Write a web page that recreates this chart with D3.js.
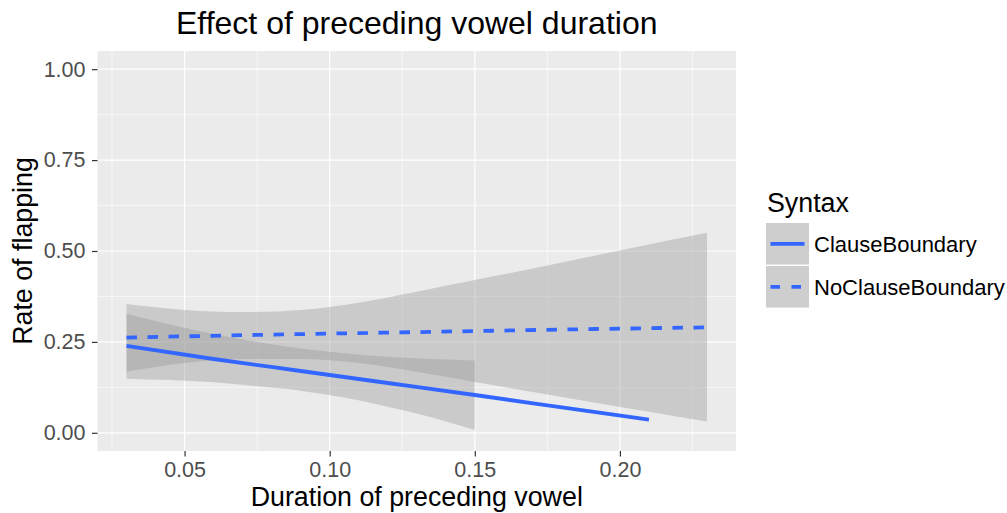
<!DOCTYPE html>
<html>
<head>
<meta charset="utf-8">
<script src="https://cdn.jsdelivr.net/npm/d3@7"></script>
<style>
  body { margin: 0; background: #fff; }
  text { font-family: "Liberation Sans", Arial, sans-serif; }
</style>
</head>
<body>
<div id="container"></div>
<script>
let width = 1007
let height = 513
let margin = { top: 51, right: 271, bottom: 62, left: 97.5 }

// tick values
const xTicks = [0.05, 0.10, 0.15, 0.20]
const xMinor = [0.025, 0.075, 0.125, 0.175, 0.225]
const yTicks = [0, 0.25, 0.5, 0.75, 1]
const yMinor = [0.125, 0.375, 0.625, 0.875]

const groups = ["ClauseBoundary", "NoClauseBoundary"]

// ClauseBoundary fit (solid)
const clauseX = [0.03, 0.06, 0.09, 0.12, 0.15, 0.18, 0.21]
const clauseFit = [0.239, 0.203, 0.170, 0.137, 0.104, 0.070, 0.036]
const clauseBandX = [0.03, 0.045, 0.06, 0.075, 0.09, 0.105, 0.12, 0.135, 0.15]
const clauseUpper = [0.327, 0.298, 0.272, 0.250, 0.232, 0.219, 0.209, 0.203, 0.199]
const clauseLower = [0.149, 0.145, 0.139, 0.128, 0.116, 0.097, 0.072, 0.043, 0.008]

// NoClauseBoundary fit (dashed)
const noClauseX = [0.03, 0.08, 0.13, 0.18, 0.23]
const noClauseFit = [0.262, 0.270, 0.277, 0.284, 0.290]
const noClauseBandX = [0.03, 0.05, 0.07, 0.09, 0.11, 0.13, 0.15, 0.17, 0.19, 0.21, 0.23]
const noClauseUpper = [0.354, 0.338, 0.332, 0.338, 0.358, 0.388, 0.420, 0.452, 0.485, 0.518, 0.550]
const noClauseLower = [0.168, 0.192, 0.203, 0.203, 0.192, 0.168, 0.140, 0.112, 0.085, 0.058, 0.031]

const lineColor = "#3366FF"
const dashes = ["none", "10.5,10.5"]

let x = d3.scaleLinear()
    .domain([0.02, 0.24])
    .range([margin.left, width - margin.right])

let y = d3.scaleLinear()
    .domain([-0.05, 1.05])
    .range([height - margin.bottom, margin.top])

let svg = d3.select("#container")
    .append("svg")
    .attr("width", width)
    .attr("height", height)
    .style("background", "#fff")

// panel
svg.append("rect")
    .attr("x", x.range()[0])
    .attr("y", y.range()[1])
    .attr("width", x.range()[1] - x.range()[0])
    .attr("height", y.range()[0] - y.range()[1])
    .attr("fill", "#EBEBEB")

// grid
let grid = svg.append("g")
grid.selectAll(".xminor").data(xMinor).join("line")
    .attr("x1", d => x(d)).attr("x2", d => x(d))
    .attr("y1", y.range()[1]).attr("y2", y.range()[0])
    .attr("stroke", "#fff").attr("stroke-width", 0.6)
grid.selectAll(".yminor").data(yMinor).join("line")
    .attr("y1", d => y(d)).attr("y2", d => y(d))
    .attr("x1", x.range()[0]).attr("x2", x.range()[1])
    .attr("stroke", "#fff").attr("stroke-width", 0.6)
grid.selectAll(".xmajor").data(xTicks).join("line")
    .attr("x1", d => x(d)).attr("x2", d => x(d))
    .attr("y1", y.range()[1]).attr("y2", y.range()[0])
    .attr("stroke", "#fff").attr("stroke-width", 1.2)
grid.selectAll(".ymajor").data(yTicks).join("line")
    .attr("y1", d => y(d)).attr("y2", d => y(d))
    .attr("x1", x.range()[0]).attr("x2", x.range()[1])
    .attr("stroke", "#fff").attr("stroke-width", 1.2)

// ribbons
let area = d3.area()
    .x(d => x(d.x))
    .y0(d => y(d.lo))
    .y1(d => y(d.hi))

let bands = [
    clauseBandX.map((v, i) => ({ x: v, lo: clauseLower[i], hi: clauseUpper[i] })),
    noClauseBandX.map((v, i) => ({ x: v, lo: noClauseLower[i], hi: noClauseUpper[i] }))
]
svg.append("g").selectAll("path").data(bands).join("path")
    .attr("d", area.curve(d3.curveMonotoneX))
    .attr("fill", "#999999")
    .attr("fill-opacity", 0.4)

// fitted lines
let line = d3.line()
    .x(d => x(d.x))
    .y(d => y(d.y))
    .curve(d3.curveMonotoneX)

let fits = [
    clauseX.map((v, i) => ({ x: v, y: clauseFit[i] })),
    noClauseX.map((v, i) => ({ x: v, y: noClauseFit[i] }))
]
svg.append("g").selectAll("path").data(fits).join("path")
    .attr("d", line)
    .attr("fill", "none")
    .attr("stroke", lineColor)
    .attr("stroke-width", 3.8)
    .attr("stroke-dasharray", (d, i) => dashes[i])

// axes
let xAxis = g => g
    .attr("transform", `translate(0,${y.range()[0]})`)
    .call(d3.axisBottom(x).tickValues(xTicks).tickFormat(d3.format(".2f")).tickSize(5.5).tickPadding(5))
    .call(g => g.select(".domain").remove())

let yAxis = g => g
    .attr("transform", `translate(${x.range()[0]},0)`)
    .call(d3.axisLeft(y).tickValues(yTicks).tickFormat(d3.format(".2f")).tickSize(5.5).tickPadding(6.5))
    .call(g => g.select(".domain").remove())

svg.append("g").call(xAxis)
svg.append("g").call(yAxis)

svg.selectAll(".tick line").attr("stroke", "#333333").attr("stroke-width", 1.2)
svg.selectAll(".tick text")
    .attr("fill", "#4D4D4D")
    .style("font-size", "21.5px")
    .style("font-family", "'Liberation Sans', Arial, sans-serif")

// titles
let cx = (x.range()[0] + x.range()[1]) / 2
svg.append("text")
    .attr("x", cx).attr("y", 34)
    .attr("text-anchor", "middle")
    .style("font-size", "32px")
    .text("Effect of preceding vowel duration")

svg.append("text")
    .attr("x", cx).attr("y", 506)
    .attr("text-anchor", "middle")
    .style("font-size", "26.8px")
    .text("Duration of preceding vowel")

svg.append("text")
    .attr("transform", `translate(32,${(y.range()[0] + y.range()[1]) / 2}) rotate(-90)`)
    .attr("text-anchor", "middle")
    .style("font-size", "26.8px")
    .text("Rate of flapping")

// legend
let legend = svg.append("g").attr("transform", "translate(766,0)")
legend.append("text")
    .attr("x", 1).attr("y", 212)
    .style("font-size", "26.8px")
    .text("Syntax")

let keys = legend.selectAll(".key").data(groups).join("g")
    .attr("transform", (d, i) => `translate(0,${223 + i * 43})`)
keys.append("rect")
    .attr("width", 43).attr("height", 41.5)
    .attr("fill", "#F2F2F2")
keys.append("rect")
    .attr("width", 43).attr("height", 41.5)
    .attr("fill", "#999999").attr("fill-opacity", 0.4)
keys.append("line")
    .attr("x1", 4.5).attr("x2", 38.5)
    .attr("y1", 20.8).attr("y2", 20.8)
    .attr("stroke", lineColor)
    .attr("stroke-width", 3.8)
    .attr("stroke-dasharray", (d, i) => i ? "9.5,11.5" : "none")
keys.append("text")
    .attr("x", 48).attr("y", 28.5)
    .style("font-size", "22px")
    .attr("fill", "#000")
    .text(d => d)
</script>
</body>
</html>
